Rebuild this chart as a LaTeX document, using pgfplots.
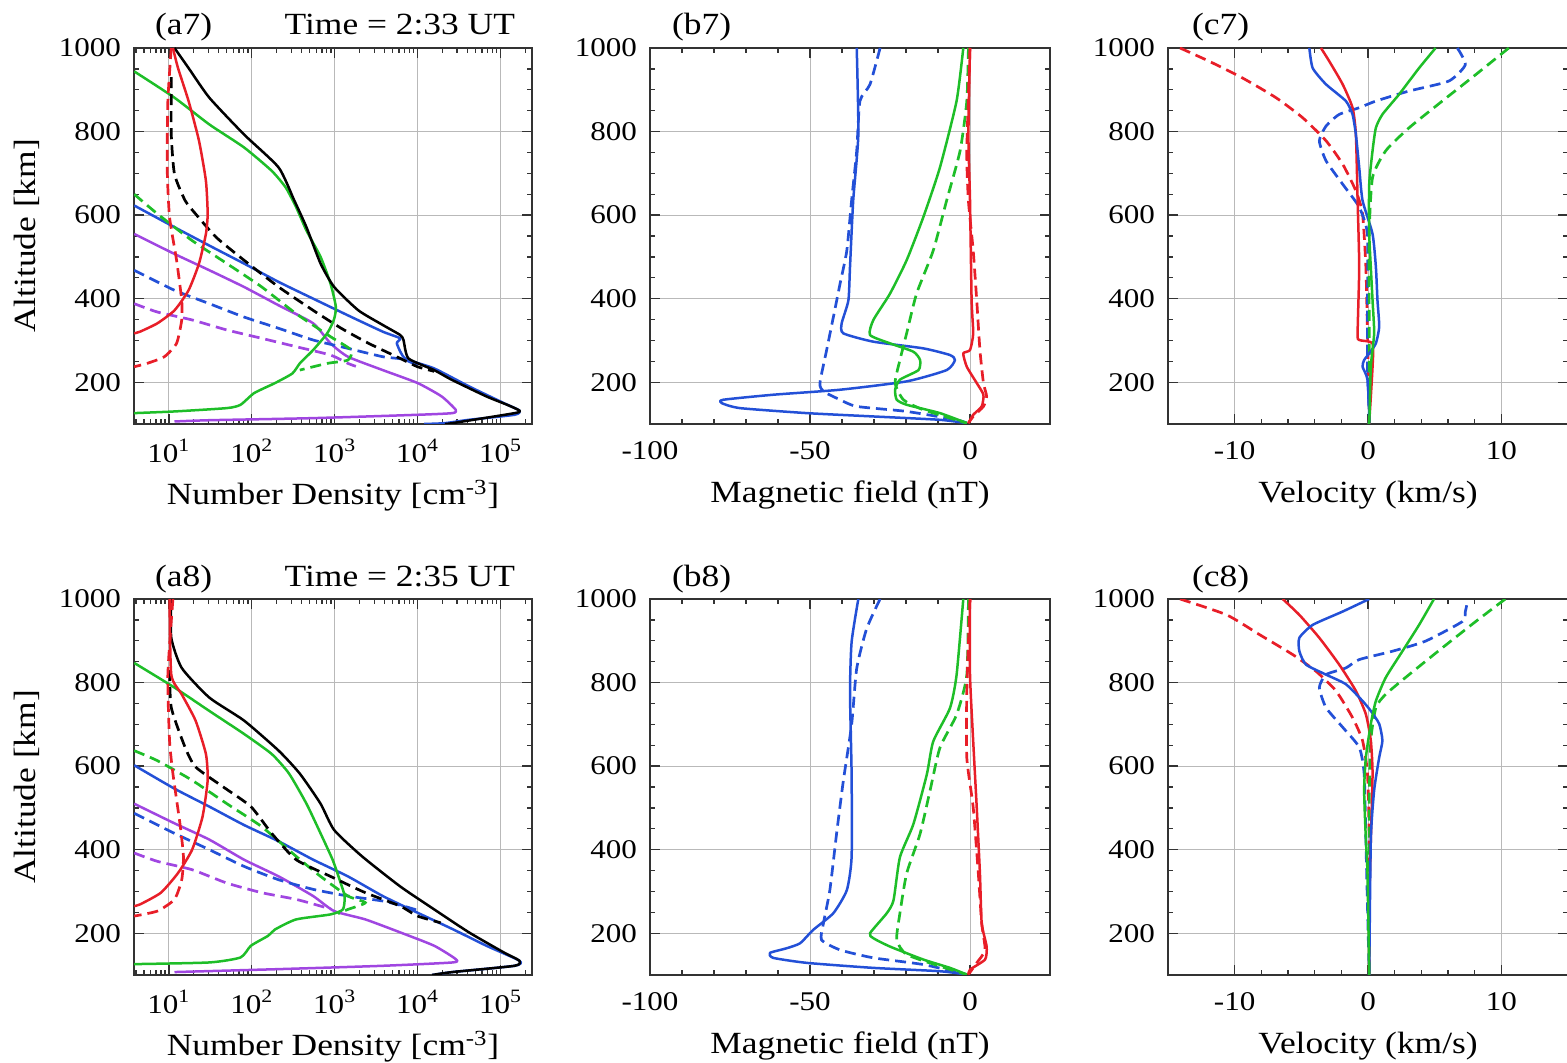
\documentclass[border=0pt]{standalone}
\usepackage{fontspec}
\setmainfont{Liberation Serif}[FakeStretch=1.15]
\usepackage{pgfplots}
\pgfplotsset{compat=1.18}
\definecolor{myred}{RGB}{232,30,40}
\definecolor{mygreen}{RGB}{30,190,40}
\definecolor{myblue}{RGB}{35,80,215}
\definecolor{mypurple}{RGB}{160,70,225}
\pgfplotsset{
  base/.style={
    scale only axis, width=200pt, height=188pt,
    ymin=100, ymax=1000, ytick={200,400,600,800,1000}, minor y tick num=3,
    grid=major, major grid style={gray!55, line width=0.5pt},
    axis line style={line width=1.2pt, black!80},
    tick align=inside, major tick length=5pt, minor tick length=2.5pt,
    every tick/.style={black!80, line width=0.7pt},
    tick label style={font=\fontsize{13.5}{15}\selectfont},
    /pgf/number format/assume math mode=true,
    /pgf/number format/1000 sep={},
    xticklabel style={anchor=center, yshift=-13.5pt},
    yticklabel style={anchor=east, xshift=-3pt},
    every axis x label/.style={at={(axis description cs:0.5,-0.19)}, anchor=center, font=\fontsize{15.4}{17}\selectfont},
    every axis y label/.style={at={(axis description cs:-0.27,0.5)}, rotate=90, anchor=center, font=\fontsize{15.4}{17}\selectfont},
  },
  aax/.style={base, xmin=3.8, xmax=2.4e5, width=199pt,
    xtick={10,100,1000,10000,100000},
    minor xtick={4,5,6,7,8,9,20,30,40,50,60,70,80,90,200,300,400,500,600,700,800,900,2000,3000,4000,5000,6000,7000,8000,9000,2e4,3e4,4e4,5e4,6e4,7e4,8e4,9e4,2e5},
    xticklabels={10\textsuperscript{1},10\textsuperscript{2},10\textsuperscript{3},10\textsuperscript{4},10\textsuperscript{5}},
    xlabel={Number Density [cm\textsuperscript{-3}]}, ylabel={Altitude [km]}},
  bax/.style={base, xmin=-100, xmax=25, xtick={-100,-50,0}, minor x tick num=4, xlabel={Magnetic field (nT)}},
  cax/.style={base, xmin=-15, xmax=15, xtick={-10,0,10}, minor x tick num=4, xlabel={Velocity (km/s)}},
  sol/.style={line width=1.25pt, line join=round, smooth, tension=0.35},
  das/.style={line width=1.35pt, dash pattern=on 5.5pt off 3pt, smooth, tension=0.35},
}
\begin{document}
\begin{tikzpicture}[x=1pt,y=1pt]
\path[use as bounding box] (0,0) rectangle (783.5,-531.5);
\tikzset{ttl/.style={font=\fontsize{15.4}{17}\selectfont}}
% ---------------- a7
\begin{semilogxaxis}[aax, name=a7, at={(67pt,-24pt)}, anchor=north west]
\addplot[das, mypurple] coordinates {(3.82,388) (7.28,368) (19.1,349) (50.1,325) (132,305) (343,285) (891,265) (1445,245) (1800,238)};
\addplot[sol, mypurple] coordinates {(3.82,555) (11.7,507) (30.8,468) (80.7,428) (211,384) (550,341) (891,293) (1445,261) (3802,229) (10000,198) (19498,166) (28840,134) (26303,126) (10000,122) (550,114) (30.8,109) (11.7,106)};
\addplot[das, myblue] coordinates {(3.82,468) (11.7,420) (30.8,388) (80.7,356) (211,329) (550,301) (1445,281) (3802,261) (6761,255) (10000,240)};
\addplot[sol, myblue] coordinates {(3.82,623) (11.7,571) (30.8,527) (80.7,484) (211,440) (550,400) (1445,360) (3802,321) (6166,305) (5623,293) (7079,257) (15849,233) (41687,190) (109648,150) (169824,132) (147911,122) (41687,110) (21380,102) (12000,100)};
\addplot[das, mygreen] coordinates {(3.82,650) (7.28,603) (19.1,539) (50.1,484) (132,428) (343,364) (891,309) (1585,277) (1445,253) (813,245) (380,229)};
\addplot[sol, mygreen] coordinates {(3.82,944) (11.7,881) (30.8,817) (80.7,762) (174,706) (257,666) (343,619) (457,563) (676,500) (891,436) (1035,380) (977,349) (813,317) (550,277) (380,245) (309,221) (191,198) (107,174) (73.3,146) (50.1,138) (11.7,130) (3.82,126)};
\addplot[das, black] coordinates {(10.7,930) (10.7,793) (11.7,698) (15.7,635) (21.0,603) (37.2,547) (80.7,492) (211,428) (550,372) (1202,329) (2570,293) (6166,257) (10000,237) (15849,226)};
\addplot[sol, black] coordinates {(11.7,1000) (17.3,952) (30.8,881) (80.7,793) (211,714) (326,635) (457,571) (676,484) (986,428) (1932,372) (3802,337) (6166,313) (6761,301) (7762,257) (15849,229) (25704,206) (67608,166) (120226,146) (169824,132) (147911,126) (26303,102) (21380,100)};
\addplot[das, myred] coordinates {(10.7,1000) (9.73,873) (9.55,714) (10.2,595) (12.4,492) (14.3,396) (14.3,349) (12.4,293) (8.83,261) (5.46,245) (3.82,237)};
\addplot[sol, myred] coordinates {(11.2,1000) (12.9,952) (17.3,873) (23.1,778) (28.0,682) (29.4,603) (28.0,555) (23.1,484) (17.3,420) (11.7,372) (7.28,341) (4.5,321) (3.82,317)};
\end{semilogxaxis}
\node[ttl, anchor=base west, xshift=7pt, yshift=6.5pt] at (a7.north west) {(a7)};
\node[ttl, anchor=base east, xshift=-5pt, yshift=6.5pt] at (a7.north east) {Time = 2:33 UT};
% ---------------- b7
\begin{axis}[bax, name=b7, at={(325pt,-24pt)}, anchor=north west]
\addplot[das, myblue] coordinates {(-28.1,1000) (-31.25,913) (-34.4,873) (-35.4,754) (-37.0,635) (-38.5,515) (-40.6,436) (-42.7,356) (-44.8,277) (-46.9,198) (-45.8,178) (-40.6,158) (-35.4,142) (-19.8,130) (-4.2,110) (-1.0,102)};
\addplot[sol, myblue] coordinates {(-35.4,1000) (-34.9,793) (-36.5,635) (-37.5,476) (-38.0,396) (-40.1,341) (-39.6,317) (-30.2,297) (-14.6,281) (-6.25,265) (-4.7,253) (-7.3,229) (-19.8,202) (-40.6,182) (-61.5,170) (-77.1,158) (-77.6,150) (-71.9,138) (-51.0,126) (-30.2,118) (-9.4,110) (-1.0,102)};
\addplot[das, mygreen] coordinates {(-0.5,1000) (-1.0,873) (-3.1,754) (-7.3,635) (-11.5,515) (-16.7,412) (-19.8,317) (-21.9,253) (-23.4,198) (-20.8,158) (-14.6,134) (-1.0,102)};
\addplot[sol, mygreen] coordinates {(-2.1,1000) (-4.2,873) (-9.4,714) (-14.6,595) (-19.8,492) (-25,412) (-30.2,349) (-31.25,313) (-25,293) (-17.7,273) (-15.6,253) (-16.1,229) (-21.9,206) (-23.4,182) (-22.9,158) (-19.8,146) (-9.4,126) (-1.0,102)};
\addplot[das, myred] coordinates {(0,1000) (-1.0,754) (-0.5,635) (1.0,515) (2.1,396) (3.1,277) (4.2,198) (5.2,166) (4.2,142) (1.0,118) (-0.5,102)};
\addplot[sol, myred] coordinates {(0,1000) (-0.5,793) (0,635) (0.5,396) (1.0,317) (0,277) (-2.1,269) (-1.0,237) (2.1,198) (4.2,170) (3.65,142) (1.0,122) (-0.5,102)};
\end{axis}
\node[ttl, anchor=base west, xshift=7.5pt, yshift=6.5pt] at (b7.north west) {(b7)};
% ---------------- c7
\begin{axis}[cax, name=c7, at={(584pt,-24pt)}, anchor=north west]
\addplot[das, myred] coordinates {(-14.1,1000) (-11.9,968) (-9.4,928) (-6.9,881) (-4.9,833) (-3.15,778) (-1.9,722) (-0.91,658) (-0.41,603) (-0.16,476) (-0.04,317) (0.1,110) (0,100)};
\addplot[das, myblue] coordinates {(6.7,1000) (7.3,960) (6.07,921) (3.08,897) (0.59,873) (-0.66,857) (-2.16,841) (-3.15,813) (-3.65,778) (-3.15,730) (-1.9,674) (-0.66,619) (-0.04,555) (-0.04,396) (-0.04,237) (0.1,110) (0,100)};
\addplot[das, mygreen] coordinates {(10.56,1000) (8.07,936) (5.57,873) (3.08,809) (1.33,754) (0.34,690) (0.09,555) (0.09,317) (0.1,110) (0,100)};
\addplot[sol, myred] coordinates {(-3.53,1000) (-2.9,968) (-1.9,913) (-1.16,857) (-0.91,793) (-0.78,635) (-0.66,476) (-0.78,317) (-0.66,301) (0.34,293) (0.34,237) (0.1,110) (0,100)};
\addplot[sol, myblue] coordinates {(-4.4,1000) (-4.15,952) (-3.15,913) (-1.66,873) (-1.16,841) (-0.91,793) (-0.66,714) (-0.41,635) (0.34,555) (0.59,476) (0.71,396) (0.84,333) (0.59,293) (0.09,269) (-0.29,253) (-0.41,237) (-0.04,206) (0.1,110) (0,100)};
\addplot[sol, mygreen] coordinates {(5.07,1000) (3.83,952) (2.33,889) (1.08,841) (0.59,809) (0.34,754) (0.09,674) (0.09,555) (0.34,396) (0.46,317) (0.21,237) (0.1,110) (0,100)};
\end{axis}
\node[ttl, anchor=base west, xshift=8.5pt, yshift=6.5pt] at (c7.north west) {(c7)};
% ---------------- a8
\begin{semilogxaxis}[aax, name=a8, at={(67pt,-299.5pt)}, anchor=north west]
\addplot[das, mypurple] coordinates {(3.82,392) (7.28,372) (19.1,352) (50.1,320) (132,297) (343,281) (676,265) (900,258)};
\addplot[sol, mypurple] coordinates {(3.82,510) (11.7,463) (30.8,424) (80.7,376) (211,336) (550,289) (986,253) (2344,233) (6166,202) (15849,170) (28840,138) (26303,130) (3802,122) (211,114) (11.7,107)};
\addplot[das, myblue] coordinates {(3.82,487) (11.7,439) (30.8,400) (80.7,360) (211,328) (550,305) (1445,289) (3802,277) (6761,265) (10000,255)};
\addplot[sol, myblue] coordinates {(3.82,602) (11.7,546) (30.8,503) (80.7,459) (211,420) (550,376) (1445,336) (3802,289) (10000,249) (26303,210) (67608,170) (169824,134) (147911,122) (26303,107) (15000,100)};
\addplot[das, mygreen] coordinates {(3.82,637) (7.28,613) (19.1,566) (50.1,510) (132,455) (343,384) (676,336) (1445,289) (2344,273) (1445,257) (1100,247)};
\addplot[sol, mygreen] coordinates {(3.82,847) (11.7,788) (30.8,732) (80.7,677) (174,629) (282,582) (457,510) (676,439) (944,376) (1148,328) (1318,289) (1259,257) (891,245) (343,233) (191,209) (158,194) (97.7,170) (73.3,142) (30.8,130) (3.82,126)};
\addplot[das, black] coordinates {(10.2,830) (10.7,740) (15.7,645) (21.0,598) (45.4,550) (97.7,503) (174,439) (343,376) (891,336) (2344,297) (6166,265) (10000,241) (19000,225)};
\addplot[sol, black] coordinates {(10.7,1000) (10.7,907) (14.3,835) (30.8,764) (80.7,709) (211,637) (380,582) (676,510) (986,447) (2138,384) (6166,312) (15849,257) (41687,202) (109648,154) (169824,134) (147911,122) (26303,107) (15000,100)};
\addplot[das, myred] coordinates {(11.2,1000) (9.73,819) (10.2,661) (11.2,582) (13.6,463) (15.0,384) (14.3,328) (11.7,281) (7.28,253) (3.82,241)};
\addplot[sol, myred] coordinates {(10.2,1000) (10.7,819) (14.3,772) (21.0,709) (28.0,629) (29.4,566) (25.5,479) (19.1,400) (12.9,344) (8.02,297) (4.5,269) (3.82,265)};
\end{semilogxaxis}
\node[ttl, anchor=base west, xshift=7pt, yshift=6.5pt] at (a8.north west) {(a8)};
\node[ttl, anchor=base east, xshift=-5pt, yshift=6.5pt] at (a8.north east) {Time = 2:35 UT};
% ---------------- b8
\begin{axis}[bax, name=b8, at={(325pt,-299.5pt)}, anchor=north west]
\addplot[das, myblue] coordinates {(-28.1,1000) (-32.3,929) (-35.4,834) (-37.0,699) (-39.6,564) (-41.7,438) (-43.8,303) (-45.8,224) (-46.4,184) (-40.6,160) (-30.2,141) (-14.6,125) (-1.0,101)};
\addplot[sol, myblue] coordinates {(-34.9,1000) (-37.0,897) (-37.5,778) (-37.0,580) (-37.0,382) (-38.5,303) (-42.7,248) (-49.0,208) (-53.1,176) (-57.3,164) (-62.5,153) (-61.5,141) (-51.0,129) (-30.2,117) (-9.4,109) (-1.0,101)};
\addplot[das, mygreen] coordinates {(-0.5,1000) (-1.0,818) (-4.2,723) (-9.4,644) (-12.5,541) (-15.6,438) (-19.8,343) (-21.9,248) (-22.9,184) (-19.8,149) (-9.4,121) (-1.0,101)};
\addplot[sol, mygreen] coordinates {(-2.1,1000) (-4.2,818) (-6.25,739) (-11.5,659) (-13.5,580) (-17.7,461) (-21.9,382) (-23.9,279) (-26.0,248) (-31.25,200) (-30.2,188) (-25,168) (-14.6,137) (-6.25,117) (-1.0,101)};
\addplot[das, myred] coordinates {(0,1000) (-1.0,778) (-1.0,620) (1.0,501) (2.6,343) (3.65,224) (4.7,160) (2.1,129) (-0.5,101)};
\addplot[sol, myred] coordinates {(0,1000) (0,818) (1.0,659) (2.1,501) (3.1,343) (3.65,224) (5.2,168) (4.7,137) (0,113) (-0.5,101)};
\end{axis}
\node[ttl, anchor=base west, xshift=7.5pt, yshift=6.5pt] at (b8.north west) {(b8)};
% ---------------- c8
\begin{axis}[cax, name=c8, at={(584pt,-299.5pt)}, anchor=north west]
\addplot[das, myred] coordinates {(-14.1,1000) (-10.6,962) (-8.1,914) (-5.65,867) (-3.9,827) (-2.4,780) (-1.16,716) (-0.41,661) (-0.04,582) (0.09,423) (0.09,100)};
\addplot[das, myblue] coordinates {(7.4,985) (7.3,970) (7.07,946) (4.3,899) (1.83,875) (-0.66,855) (-1.66,835) (-3.15,819) (-3.65,788) (-3.15,740) (-1.9,693) (-0.66,645) (-0.29,582) (-0.16,423) (-0.04,265) (0.09,100)};
\addplot[das, mygreen] coordinates {(10.3,1000) (8.07,946) (5.57,883) (3.08,819) (1.33,772) (0.59,740) (0.21,661) (0.09,502) (0.09,100)};
\addplot[sol, myred] coordinates {(-6.4,1000) (-5.15,962) (-3.65,907) (-2.16,843) (-0.91,780) (-0.16,724) (0.21,661) (0.34,582) (0.21,423) (0.09,265) (0.09,100)};
\addplot[sol, myblue] coordinates {(0.09,1000) (-1.9,970) (-4.15,938) (-5.15,907) (-5.15,875) (-4.65,843) (-3.15,819) (-1.66,796) (-0.41,756) (0.21,732) (0.84,701) (1.08,661) (0.84,621) (0.46,542) (0.21,423) (0.09,100)};
\addplot[sol, mygreen] coordinates {(4.95,1000) (3.83,938) (2.58,875) (1.33,812) (0.59,756) (0.21,701) (-0.16,621) (-0.29,542) (-0.16,423) (-0.04,344) (0.09,100)};
\end{axis}
\node[ttl, anchor=base west, xshift=8.5pt, yshift=6.5pt] at (c8.north west) {(c8)};
\end{tikzpicture}
\end{document}
